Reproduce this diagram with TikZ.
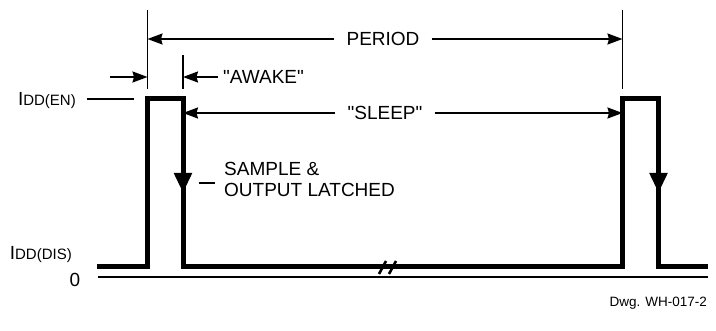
\documentclass[tikz,border=0pt]{standalone}
\usepackage{fontspec}
\setmainfont{Liberation Sans}[Ligatures=TeXOff]
\usetikzlibrary{positioning,calc,arrows.meta}
\tikzset{
    wave/.style={
        line width=5pt,
        line join=miter
    },
    ext/.style={line width=1.7pt},
    axisline/.style={line width=2.2pt},
    dim/.style={
        line width=1.8pt,
        -{Stealth[length=15pt,width=11pt,inset=1.5pt]}
    },
    latch/.style={
        line width=5pt,
        -{Triangle[length=20pt,width=17pt]}
    },
    brk/.style={line width=2.6pt},
    lbl/.style={font=\fontsize{19}{21}\selectfont, inner sep=0pt},
    dwglbl/.style={font=\fontsize{13.5}{15}\selectfont, inner sep=0pt}
}
\newcommand{\iddlabel}[1]{{\fontsize{19}{19}\selectfont I}{\fontsize{15}{15}\selectfont DD(#1)}}

\begin{document}
\begin{tikzpicture}[x=1pt, y=-1pt]
    \useasboundingbox (0,0) rectangle (716,331);

    % waveform
    \draw[wave] (97,267) -| (147.5,99) -| (183,267) -| (622.5,99) -| (658.5,267) -- (708,267);
    \draw[axisline] (98,277) -- (708,277);
    \draw[brk] (379,274) -- (386,261);
    \draw[brk] (389,274) -- (396,261);

    % sample points
    \coordinate (fall1) at (183,120);
    \coordinate (tip1) at (183,193);
    \coordinate (fall2) at (658.5,120);
    \coordinate (tip2) at (658.5,193);
    \draw[latch] (fall1) -- (tip1);
    \draw[latch] (fall2) -- (tip2);

    % extension lines
    \draw[ext] (147.5,10) -- (147.5,89);
    \draw[ext] (622.5,10) -- (622.5,89);
    \draw[ext] (183,55) -- (183,89);

    % period
    \node[lbl, inner xsep=12pt] (period) at (383,39) {PERIOD};
    \coordinate (perL) at (147.5,39);
    \coordinate (perR) at (622.5,39);
    \draw[dim] (period) -- (perL);
    \draw[dim] (period) -- (perR);

    % awake
    \node[lbl, anchor=west, inner xsep=5pt] (awake) at (218,77) {"AWAKE"};
    \coordinate (awR) at (183,77);
    \coordinate (awL0) at (110,77);
    \coordinate (awL) at (147.5,77);
    \draw[dim] (awake) -- (awR);
    \draw[dim] (awL0) -- (awL);

    % sleep
    \node[lbl, inner xsep=12pt] (sleep) at (385,113) {"SLEEP"};
    \coordinate (slL) at (183,113);
    \coordinate (slR) at (622.5,113);
    \draw[dim] (sleep) -- (slL);
    \draw[dim] (sleep) -- (slR);

    % levels
    \node[lbl, anchor=base east, inner xsep=11pt] (iddEn) at (87,106) {\iddlabel{EN}};
    \coordinate (enEnd) at (134,99);
    \draw[ext] (iddEn.east |- enEnd) -- (enEnd);
    \node[lbl, anchor=base east] (iddDis) at (72,260) {\iddlabel{DIS}};
    \node[lbl, anchor=base] (zero) at (75,287) {0};

    % latch note
    \node[lbl, anchor=base west, inner xsep=9pt, align=left] (sample) at (215,197) {SAMPLE \&\\OUTPUT LATCHED};
    \coordinate (tick) at (199,183);
    \draw[ext] (tick) -- (tick -| sample.west);

    \node[dwglbl, anchor=base east] (dwg) at (707,307) {Dwg. WH-017-2};
\end{tikzpicture}
\end{document}
